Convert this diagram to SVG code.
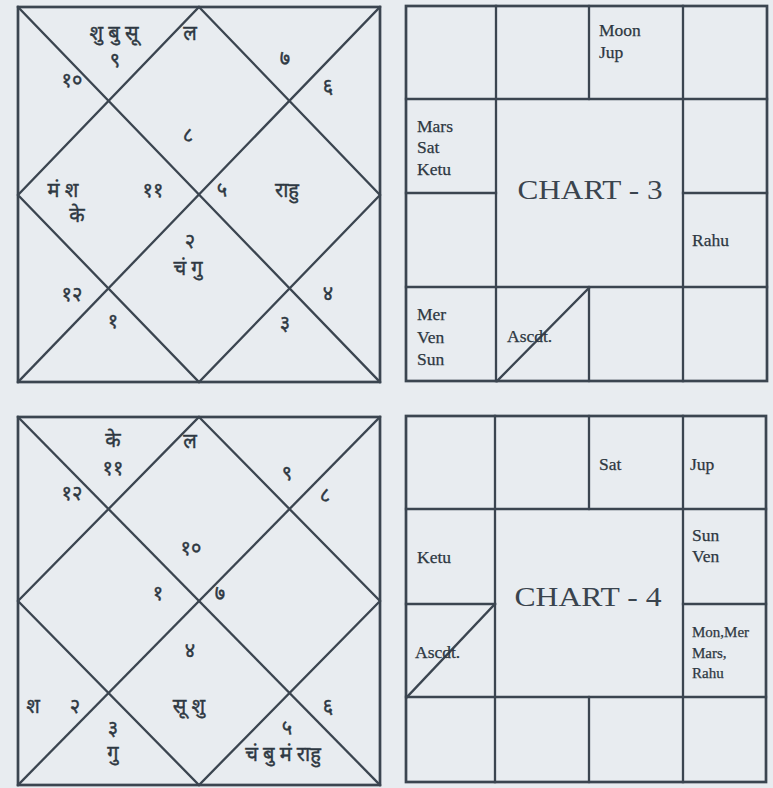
<svg xmlns="http://www.w3.org/2000/svg" width="773" height="788" viewBox="0 0 773 788">
<style>
.bg{fill:#e8ecf0}
.ln{stroke:#3b4550;stroke-width:2.3;fill:none;stroke-linecap:square}
.fr{stroke:#3b4550;stroke-width:2.7;fill:none}
.dv{font-family:"Noto Sans Devanagari","Noto Sans","Lohit Devanagari","Mangal",sans-serif;font-size:20px;fill:#2e3842;stroke:#2e3842;stroke-width:0.4;text-anchor:middle}
.en{font-family:"Liberation Serif","Times New Roman",serif;font-size:17.5px;fill:#2e3842;stroke:#2e3842;stroke-width:0.25}
.sm{font-size:15px}
.tt{font-family:"Liberation Serif","Times New Roman",serif;font-size:28px;fill:#3a444e;text-anchor:middle}
</style>
<rect class="bg" x="0" y="0" width="773" height="788"/>

<g id="connectors">
  <!-- Chart 3 north -->
  <rect class="fr" x="18" y="7" width="362" height="375"/>
  <line class="ln" x1="18" y1="7" x2="380" y2="382"/>
  <line class="ln" x1="380" y1="7" x2="18" y2="382"/>
  <polygon class="ln" points="199,7 380,195 199,382 18,195"/>
  <!-- Chart 3 south -->
  <rect class="fr" x="406" y="6" width="361" height="375"/>
  <line class="ln" x1="406" y1="99" x2="767" y2="99"/>
  <line class="ln" x1="406" y1="287" x2="767" y2="287"/>
  <line class="ln" x1="496" y1="6" x2="496" y2="381"/>
  <line class="ln" x1="683" y1="6" x2="683" y2="381"/>
  <line class="ln" x1="589" y1="6" x2="589" y2="99"/>
  <line class="ln" x1="589" y1="287" x2="589" y2="381"/>
  <line class="ln" x1="406" y1="193" x2="496" y2="193"/>
  <line class="ln" x1="683" y1="193" x2="767" y2="193"/>
  <line class="ln" x1="589" y1="288" x2="497" y2="381"/>
  <!-- Chart 4 north -->
  <rect class="fr" x="18" y="417" width="362" height="368"/>
  <line class="ln" x1="18" y1="417" x2="380" y2="785"/>
  <line class="ln" x1="380" y1="417" x2="18" y2="785"/>
  <polygon class="ln" points="199,417 380,601 199,785 18,601"/>
  <!-- Chart 4 south -->
  <rect class="fr" x="406" y="416" width="360" height="366"/>
  <line class="ln" x1="406" y1="509" x2="766" y2="509"/>
  <line class="ln" x1="406" y1="697" x2="766" y2="697"/>
  <line class="ln" x1="495" y1="416" x2="495" y2="782"/>
  <line class="ln" x1="683" y1="416" x2="683" y2="782"/>
  <line class="ln" x1="589" y1="416" x2="589" y2="509"/>
  <line class="ln" x1="589" y1="697" x2="589" y2="782"/>
  <line class="ln" x1="406" y1="604" x2="495" y2="604"/>
  <line class="ln" x1="683" y1="604" x2="766" y2="604"/>
  <line class="ln" x1="495" y1="604" x2="407" y2="697"/>
</g>

<g id="chart3-north">
  <text class="dv" x="114" y="40">शु बु सू</text>
  <text class="dv" x="190" y="40">ल</text>
  <text class="dv" x="115" y="67">९</text>
  <text class="dv" x="285" y="65">७</text>
  <text class="dv" x="72" y="87">१०</text>
  <text class="dv" x="328" y="93">६</text>
  <text class="dv" x="188" y="142">८</text>
  <text class="dv" x="63" y="197">मं श</text>
  <text class="dv" x="77" y="222">के</text>
  <text class="dv" x="153" y="197">११</text>
  <text class="dv" x="222" y="197">५</text>
  <text class="dv" x="287" y="197">राहु</text>
  <text class="dv" x="190" y="248">२</text>
  <text class="dv" x="188" y="275">चं गु</text>
  <text class="dv" x="72" y="301">१२</text>
  <text class="dv" x="328" y="300">४</text>
  <text class="dv" x="113" y="328">१</text>
  <text class="dv" x="285" y="330">३</text>
</g>

<g id="chart3-south">
  <text class="en" x="599" y="36">Moon</text>
  <text class="en" x="599" y="58">Jup</text>
  <text class="en" x="417" y="132">Mars</text>
  <text class="en" x="417" y="153">Sat</text>
  <text class="en" x="417" y="175">Ketu</text>
  <text class="tt" x="590" y="199" textLength="145" lengthAdjust="spacingAndGlyphs">CHART - 3</text>
  <text class="en" x="692" y="246">Rahu</text>
  <text class="en" x="417" y="320">Mer</text>
  <text class="en" x="417" y="343">Ven</text>
  <text class="en" x="417" y="365">Sun</text>
  <text class="en" x="507" y="342">Ascdt.</text>
</g>

<g id="chart4-north">
  <text class="dv" x="113" y="447">के</text>
  <text class="dv" x="190" y="448">ल</text>
  <text class="dv" x="113" y="475">११</text>
  <text class="dv" x="287" y="480">९</text>
  <text class="dv" x="72" y="500">१२</text>
  <text class="dv" x="325" y="502">८</text>
  <text class="dv" x="191" y="555">१०</text>
  <text class="dv" x="158" y="600">१</text>
  <text class="dv" x="220" y="600">७</text>
  <text class="dv" x="190" y="657">४</text>
  <text class="dv" x="33" y="713">श</text>
  <text class="dv" x="75" y="713">२</text>
  <text class="dv" x="189" y="713">सू शु</text>
  <text class="dv" x="328" y="713">६</text>
  <text class="dv"><tspan x="113" y="735">३</tspan><tspan x="113" y="760">गु</tspan></text>
  <text class="dv" x="287" y="735">५</text>
  <text class="dv" x="283" y="761">चं बु मं राहु</text>
</g>

<g id="chart4-south">
  <text class="en" x="599" y="470">Sat</text>
  <text class="en" x="690" y="470">Jup</text>
  <text class="en" x="692" y="541">Sun</text>
  <text class="en" x="692" y="562">Ven</text>
  <text class="en" x="417" y="563">Ketu</text>
  <text class="tt" x="588" y="606" textLength="147" lengthAdjust="spacingAndGlyphs">CHART - 4</text>
  <text class="en" x="415" y="658">Ascdt.</text>
  <text class="en sm" x="692" y="637">Mon,Mer</text>
  <text class="en sm" x="692" y="658">Mars,</text>
  <text class="en sm" x="692" y="678">Rahu</text>
</g>
</svg>
